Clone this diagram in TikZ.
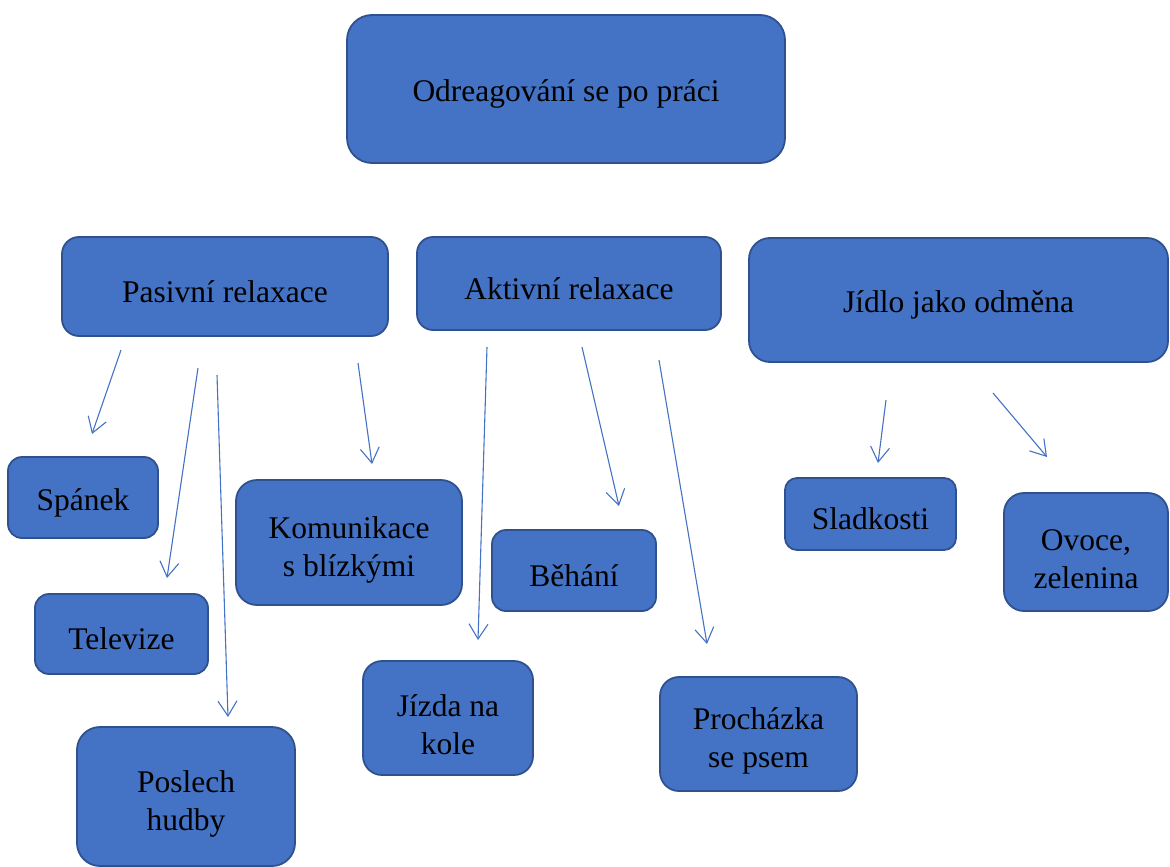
\documentclass[tikz,border=0pt]{standalone}
\usepackage{fontspec}
\setmainfont{Liberation Serif}
\usetikzlibrary{arrows.meta}
\definecolor{boxfill}{HTML}{4472C4}
\definecolor{boxline}{HTML}{2F528F}
\definecolor{arrowc}{HTML}{4472C4}
\newcommand{\tallstrut}{\rule{0pt}{36pt}}
\tikzset{
  bx/.style={draw=boxline, fill=boxfill, line width=1.8pt, inner sep=0pt, align=center,
    font=\fontsize{31.5}{38}\selectfont, text=black,
    execute at begin node={\rule{0pt}{32pt}}},
  bxtwo/.style={bx, execute at begin node={}},
  arr/.style={draw=arrowc, line width=1.1pt, -{Straight Barb[length=15pt,width=19pt,line width=1.1pt]}}
}
\begin{document}
\begin{tikzpicture}[x=1pt,y=-1pt]
\useasboundingbox (0,0) rectangle (1170,867);
% boxes
\node[bx, minimum width=438pt, minimum height=148pt, rounded corners=25pt] (top) at (566,89) {Odreagování se po práci};
\node[bx, minimum width=326pt, minimum height=99pt, rounded corners=17pt] (pas) at (225,286.5) {Pasivní relaxace};
\node[bx, minimum width=304pt, minimum height=93pt, rounded corners=16pt] (akt) at (569,283.5) {Aktivní relaxace};
\node[bx, minimum width=419pt, minimum height=124pt, rounded corners=21pt] (jid) at (958.5,300) {Jídlo jako odměna};
\node[bx, minimum width=150pt, minimum height=81pt, rounded corners=14pt] (spa) at (83,497.5) {Spánek};
\node[bx, minimum width=173pt, minimum height=80pt, rounded corners=14pt] (tel) at (121.5,634) {Televize};
\node[bxtwo, minimum width=218pt, minimum height=139pt, rounded corners=23pt] (pos) at (186,796.5) {\tallstrut Poslech\\hudby};
\node[bxtwo, minimum width=226pt, minimum height=125pt, rounded corners=21pt] (kom) at (349,542.5) {\tallstrut Komunikace\\s blízkými};
\node[bxtwo, minimum width=170pt, minimum height=114pt, rounded corners=19pt] (jiz) at (448,718) {\tallstrut Jízda na\\kole};
\node[bx, minimum width=164pt, minimum height=81pt, rounded corners=14pt] (beh) at (574,570.5) {Běhání};
\node[bxtwo, minimum width=197pt, minimum height=114pt, rounded corners=19pt] (pro) at (758.5,734) {\tallstrut Procházka\\se psem};
\node[bx, minimum width=171pt, minimum height=72pt, rounded corners=12pt] (sla) at (870.5,514) {Sladkosti};
\node[bxtwo, minimum width=164pt, minimum height=118pt, rounded corners=20pt] (ovo) at (1086,552) {\tallstrut Ovoce,\\zelenina};
% arrow end points (free-floating)
\coordinate (s1) at (121,350); \coordinate (e1) at (92,434);
\coordinate (s2) at (198,368); \coordinate (e2) at (167,578);
\coordinate (s3) at (217,375); \coordinate (e3) at (228,717);
\coordinate (s4) at (358,363); \coordinate (e4) at (372,464);
\coordinate (s5) at (487,347); \coordinate (e5) at (478,640);
\coordinate (s6) at (582,347); \coordinate (e6) at (619,506);
\coordinate (s7) at (659,360); \coordinate (e7) at (707,644);
\coordinate (s8) at (886,400); \coordinate (e8) at (878,463);
\coordinate (s9) at (993,393); \coordinate (e9) at (1047,457);
\draw[arr] (s1) -- (e1);
\draw[arr] (s2) -- (e2);
\draw[arr] (s3) -- (e3);
\draw[arr] (s4) -- (e4);
\draw[arr] (s5) -- (e5);
\draw[arr] (s6) -- (e6);
\draw[arr] (s7) -- (e7);
\draw[arr] (s8) -- (e8);
\draw[arr] (s9) -- (e9);
\end{tikzpicture}
\end{document}
